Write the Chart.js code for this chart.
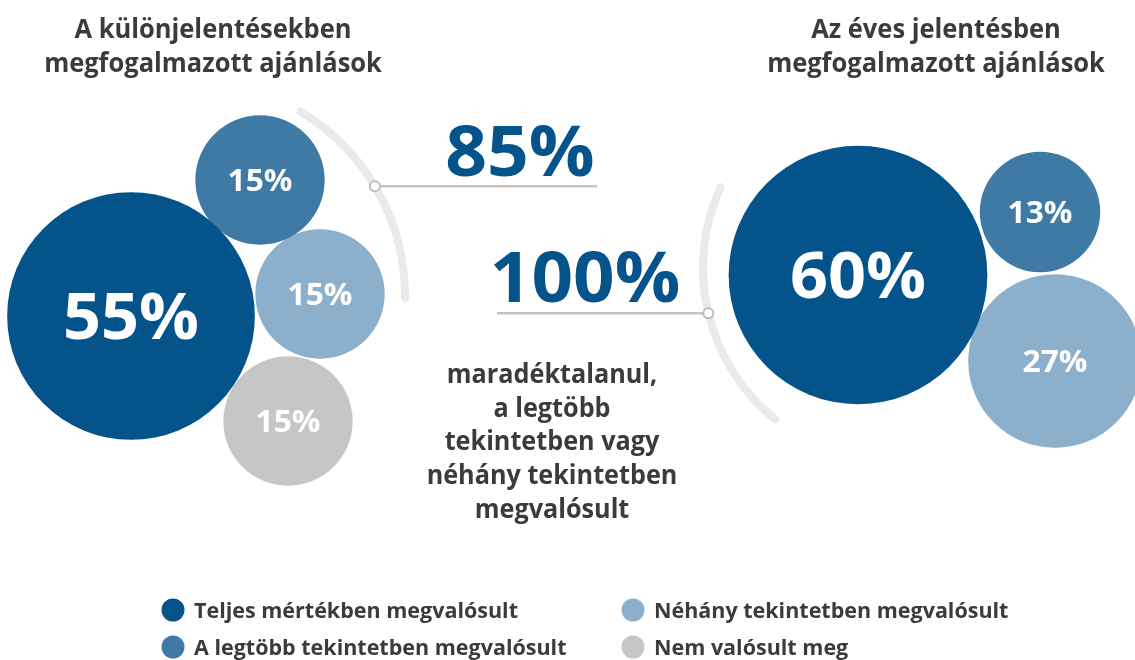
<!DOCTYPE html>
<html><head><meta charset="utf-8">
<script src="https://cdn.jsdelivr.net/npm/chart.js@4.4.1/dist/chart.umd.min.js"></script>
<style>html,body{margin:0;padding:0;background:#fff;overflow:hidden}canvas{display:block}</style>
</head><body><canvas id="c" width="1135" height="660"></canvas>
<script>
// ---------- DATA ----------
const categories = ['Teljes mértékben megvalósult', 'A legtöbb tekintetben megvalósult', 'Néhány tekintetben megvalósult', 'Nem valósult meg'];
const groupTitles = [['A különjelentésekben', 'megfogalmazott ajánlások'], ['Az éves jelentésben', 'megfogalmazott ajánlások']];
const specialValues = [55, 15, 15, 15];   // különjelentések (%)
const annualValues = [60, 13, 27, 0];     // éves jelentés (%)
const summaryValues = [85, 100];          // összesített arány (%)
const summaryNote = ['maradéktalanul,', 'a legtöbb', 'tekintetben vagy', 'néhány tekintetben', 'megvalósult'];

// ---------- STYLE / LAYOUT ----------
const colors = ['#04538a', '#3e7aa4', '#8cb0cb', '#c6c6c8'];
const textColor = '#3b3b3d';
const FONT = '"Open Sans", "Noto Sans", sans-serif';
const K = 16.7; // bubble radius = K * sqrt(value)
const layoutSpecial = [[131, 316], [260, 180], [320, 294], [288, 421]];
const layoutAnnual = [[858, 275], [1040, 212], [1055, 361], [0, 0]];

const datasets = categories.map((cat, i) => {
  const pts = [];
  [[specialValues, layoutSpecial], [annualValues, layoutAnnual]].forEach(([vals, lay]) => {
    if (vals[i] > 0) pts.push({ x: lay[i][0], y: lay[i][1], r: K * Math.sqrt(vals[i]), v: vals[i] });
  });
  return { label: cat, data: pts, backgroundColor: colors[i], borderWidth: 0, hoverBorderWidth: 0, clip: false };
});

function txt(ctx, s, x, y, size, color, align, squeeze) {
  ctx.save();
  ctx.font = '700 ' + size + 'px ' + FONT;
  ctx.fillStyle = color;
  ctx.textBaseline = 'alphabetic';
  const w = ctx.measureText(s).width * squeeze;
  let x0 = x;
  if (align === 'center') x0 = x - w / 2;
  ctx.translate(x0, y);
  ctx.scale(squeeze, 1);
  ctx.textAlign = 'left';
  ctx.fillText(s, 0, 0);
  ctx.restore();
}

const decor = {
  id: 'decor',
  beforeDatasetsDraw(chart) {
    const ctx = chart.ctx;
    const sx = chart.scales.x, sy = chart.scales.y;
    const P = (x, y) => [sx.getPixelForValue(x), sy.getPixelForValue(y)];
    ctx.save();
    ctx.strokeStyle = '#e8eaec';
    ctx.lineWidth = 8;
    ctx.lineCap = 'round';
    const deg = Math.PI / 180;
    // left arc
    let c = P(190, 296);
    ctx.beginPath(); ctx.arc(c[0], c[1], 215, -59 * deg, 0.5 * deg); ctx.stroke();
    const n1 = [c[0] + 215 * Math.cos(-30.7 * deg), c[1] + 215 * Math.sin(-30.7 * deg)];
    // right arc
    c = P(898, 268);
    ctx.beginPath(); ctx.arc(c[0], c[1], 195, 129 * deg, 204.5 * deg); ctx.stroke();
    const n2 = [c[0] + 195 * Math.cos(166.6 * deg), c[1] + 195 * Math.sin(166.6 * deg)];
    // connectors
    ctx.strokeStyle = '#c4c4c4';
    ctx.lineWidth = 2.5;
    ctx.lineCap = 'butt';
    ctx.beginPath(); ctx.moveTo(n1[0], n1[1]); ctx.lineTo(sx.getPixelForValue(597), n1[1]); ctx.stroke();
    ctx.beginPath(); ctx.moveTo(sx.getPixelForValue(497), n2[1]); ctx.lineTo(n2[0], n2[1]); ctx.stroke();
    [n1, n2].forEach(n => {
      ctx.beginPath(); ctx.arc(n[0], n[1], 5, 0, 2 * Math.PI);
      ctx.fillStyle = '#fff'; ctx.fill();
      ctx.strokeStyle = '#bdbdbd'; ctx.lineWidth = 2; ctx.stroke();
    });
    ctx.restore();
  },
  afterDatasetsDraw(chart) {
    const ctx = chart.ctx;
    chart.data.datasets.forEach((ds, di) => {
      chart.getDatasetMeta(di).data.forEach((el, j) => {
        const v = ds.data[j].v;
        const big = ds.data[j].r > 100;
        const size = big ? 64 : 30;
        txt(ctx, v + '%', el.x, el.y + size * 0.714 / 2, size, '#ffffff', 'center', big ? 1.04 : 1.06);
      });
    });
  },
  afterDraw(chart) {
    const ctx = chart.ctx;
    // titles
    txt(ctx, groupTitles[0][0], 213, 38, 26, textColor, 'center', 0.98);
    txt(ctx, groupTitles[0][1], 213, 72, 26, textColor, 'center', 0.98);
    txt(ctx, groupTitles[1][0], 936, 38, 26, textColor, 'center', 0.98);
    txt(ctx, groupTitles[1][1], 936, 72, 26, textColor, 'center', 0.98);
    // summary numbers
    txt(ctx, summaryValues[0] + '%', 520, 176, 69, colors[0], 'center', 1.06);
    txt(ctx, summaryValues[1] + '%', 585, 302, 70, colors[0], 'center', 1.04);
    // note
    summaryNote.forEach((s, i) => txt(ctx, s, 552, 383 + i * 33.7, 26, textColor, 'center', 0.97));
    // legend
    const lx = [173, 633], ly = [610, 647];
    categories.forEach((cat, i) => {
      const col = i < 2 ? 0 : 1, row = i % 2;
      ctx.beginPath(); ctx.arc(lx[col], ly[row], 11.5, 0, 2 * Math.PI);
      ctx.fillStyle = colors[i]; ctx.fill();
      txt(ctx, cat, lx[col] + 21, ly[row] + 8, 21.5, textColor, 'left', 1.0);
    });
  }
};

new Chart(document.getElementById('c'), {
  type: 'bubble',
  data: { datasets },
  options: {
    responsive: false,
    animation: false,
    devicePixelRatio: 1,
    layout: { padding: 0, autoPadding: false },
    events: [],
    scales: {
      x: { type: 'linear', display: false, min: 0, max: 1135 },
      y: { type: 'linear', display: false, min: 0, max: 660, reverse: true }
    },
    plugins: { legend: { display: false }, tooltip: { enabled: false } }
  },
  plugins: [decor]
});
</script>
</body></html>
